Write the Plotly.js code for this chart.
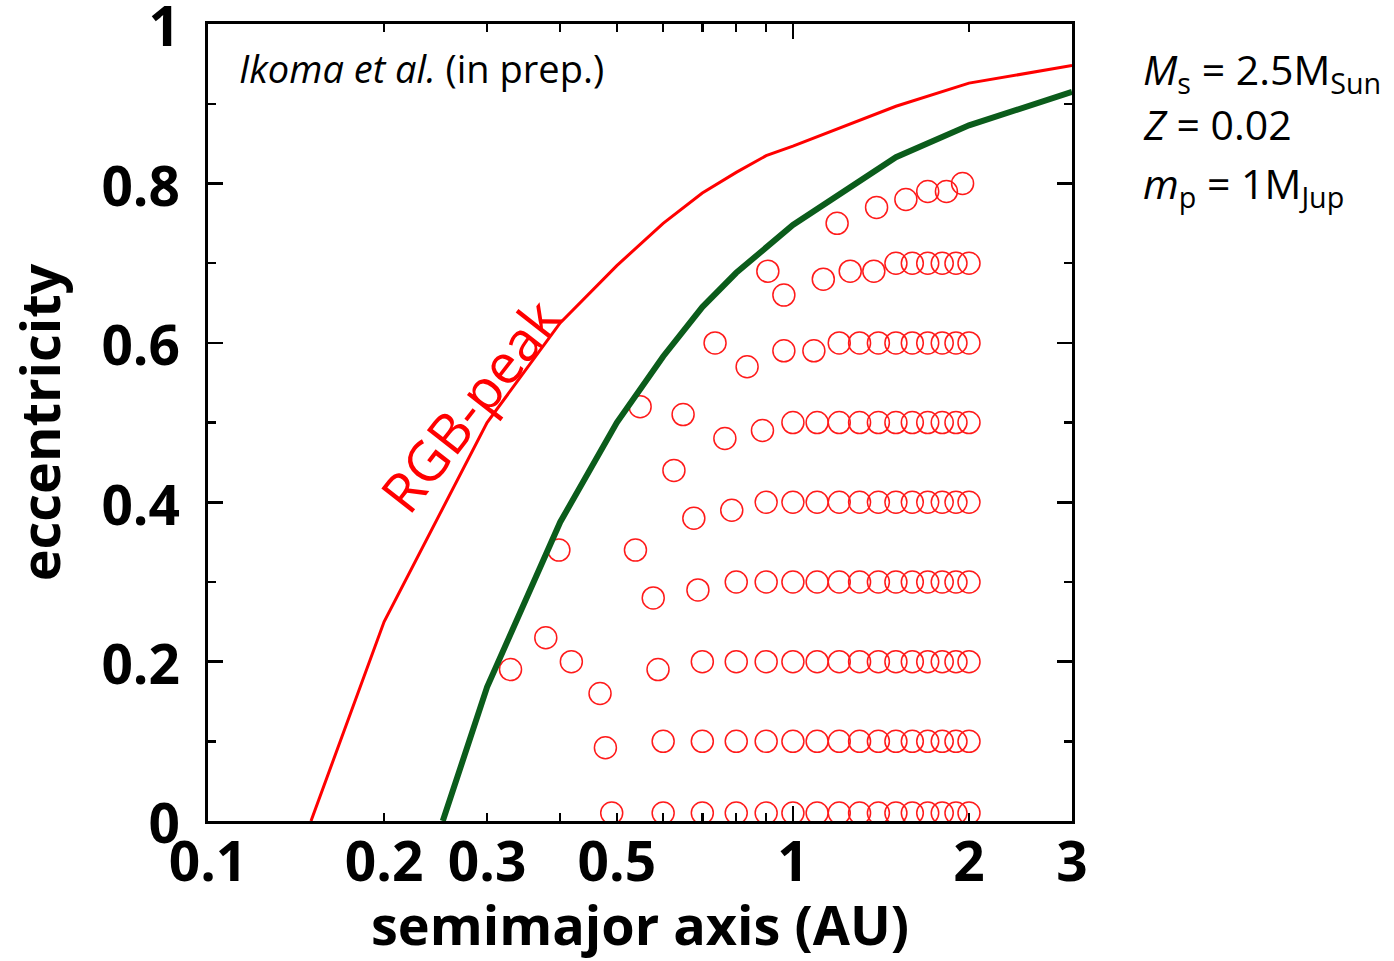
<!DOCTYPE html>
<html>
<head>
<meta charset="utf-8">
<script src="https://cdn.plot.ly/plotly-3.0.1.min.js"></script>
<style>html,body{margin:0;padding:0;background:#fff;}#chart{width:1394px;height:961px;}</style>
</head>
<body>
<div id="chart"></div>
<script>
// RGB-peak boundary (red line)
const redA = [0.15, 0.2, 0.3, 0.4, 0.5, 0.6, 0.7, 0.8, 0.9, 1.0, 1.5, 2.0, 3.0];
const redE = [0, 0.25, 0.50, 0.625, 0.697, 0.75, 0.788, 0.814, 0.835, 0.847, 0.897, 0.926, 0.948];

// green boundary
const greenA = [0.252, 0.3, 0.4, 0.5, 0.6, 0.7, 0.8, 0.9, 1.0, 1.5, 2.0, 3.0];
const greenE = [0, 0.168, 0.375, 0.50, 0.583, 0.645, 0.688, 0.72, 0.748, 0.833, 0.873, 0.915];

// final orbits (open circles)
const circA = [
  0.49, 0.6, 0.7, 0.8, 0.9, 1.0, 1.1, 1.2, 1.3, 1.4, 1.5, 1.6, 1.7, 1.8, 1.9, 2.0,
  0.478, 0.6, 0.7, 0.8, 0.9, 1.0, 1.1, 1.2, 1.3, 1.4, 1.5, 1.6, 1.7, 1.8, 1.9, 2.0,
  0.329, 0.378, 0.418, 0.468, 0.588, 0.7, 0.8, 0.9, 1.0, 1.1, 1.2, 1.3, 1.4, 1.5, 1.6, 1.7, 1.8, 1.9, 2.0,
  0.398, 0.538, 0.577, 0.688, 0.8, 0.9, 1.0, 1.1, 1.2, 1.3, 1.4, 1.5, 1.6, 1.7, 1.8, 1.9, 2.0,
  0.626, 0.677, 0.786, 0.9, 1.0, 1.1, 1.2, 1.3, 1.4, 1.5, 1.6, 1.7, 1.8, 1.9, 2.0,
  0.548, 0.649, 0.765, 0.887, 1.0, 1.1, 1.2, 1.3, 1.4, 1.5, 1.6, 1.7, 1.8, 1.9, 2.0,
  0.736, 0.835, 0.965, 1.086, 1.2, 1.3, 1.4, 1.5, 1.6, 1.7, 1.8, 1.9, 2.0,
  0.906, 0.965, 1.127, 1.253, 1.375, 1.5, 1.6, 1.7, 1.8, 1.9, 2.0,
  1.19, 1.39, 1.56, 1.70, 1.83, 1.95
];
const circE = [
  0.01, 0.01, 0.01, 0.01, 0.01, 0.01, 0.01, 0.01, 0.01, 0.01, 0.01, 0.01, 0.01, 0.01, 0.01, 0.01,
  0.092, 0.1, 0.1, 0.1, 0.1, 0.1, 0.1, 0.1, 0.1, 0.1, 0.1, 0.1, 0.1, 0.1, 0.1, 0.1,
  0.19, 0.23, 0.20, 0.16, 0.19, 0.2, 0.2, 0.2, 0.2, 0.2, 0.2, 0.2, 0.2, 0.2, 0.2, 0.2, 0.2, 0.2, 0.2,
  0.34, 0.34, 0.28, 0.29, 0.3, 0.3, 0.3, 0.3, 0.3, 0.3, 0.3, 0.3, 0.3, 0.3, 0.3, 0.3, 0.3,
  0.44, 0.38, 0.39, 0.4, 0.4, 0.4, 0.4, 0.4, 0.4, 0.4, 0.4, 0.4, 0.4, 0.4, 0.4,
  0.52, 0.51, 0.48, 0.49, 0.5, 0.5, 0.5, 0.5, 0.5, 0.5, 0.5, 0.5, 0.5, 0.5, 0.5,
  0.60, 0.57, 0.59, 0.59, 0.6, 0.6, 0.6, 0.6, 0.6, 0.6, 0.6, 0.6, 0.6,
  0.69, 0.66, 0.68, 0.69, 0.69, 0.7, 0.7, 0.7, 0.7, 0.7, 0.7,
  0.75, 0.77, 0.78, 0.79, 0.79, 0.80
];

// tick labels
const xTickVals = [0.1, 0.2, 0.3, 0.5, 1, 2, 3];
const xTickText = ['0.1', '0.2', '0.3', '0.5', '1', '2', '3'];
const xMinorVals = [0.4, 0.6, 0.7, 0.8, 0.9];
const xMajorLong = [1];
const yTickVals = [0, 0.2, 0.4, 0.6, 0.8, 1];
const yTickText = ['0', '0.2', '0.4', '0.6', '0.8', '1'];

const FONT = 'Open Sans, Noto Sans, sans-serif';
const xRange = [Math.log10(0.1), Math.log10(3)];

const traces = [
  {x: redA, y: redE, type: 'scatter', mode: 'lines', line: {color: '#ff0000', width: 3}, xaxis: 'x', yaxis: 'y', hoverinfo: 'skip'},
  {x: circA, y: circE, type: 'scatter', mode: 'markers', xaxis: 'x', yaxis: 'y',
   marker: {symbol: 'circle-open', size: 22, color: '#ff1a1a', line: {width: 1.5, color: '#ff1a1a'}}, hoverinfo: 'skip'},
  {x: greenA, y: greenE, type: 'scatter', mode: 'lines', line: {color: '#0b5c1b', width: 6}, xaxis: 'x2', yaxis: 'y', hoverinfo: 'skip'}
];

const layout = {
  width: 1394, height: 961,
  margin: {l: 208, r: 322, t: 24, b: 140, pad: 0},
  paper_bgcolor: '#ffffff', plot_bgcolor: '#ffffff',
  showlegend: false,
  font: {family: FONT, color: '#000'},
  xaxis: {
    type: 'log', range: xRange, fixedrange: true,
    tickmode: 'array', tickvals: xTickVals, ticktext: xTickText,
    ticks: 'inside', ticklen: 8, tickwidth: 2.5, tickcolor: '#000',
    minor: {tickmode: 'array', tickvals: xMinorVals, ticks: 'inside', ticklen: 8, tickwidth: 2.5, tickcolor: '#000', showgrid: false},
    showline: true, linewidth: 3, linecolor: '#000', mirror: 'ticks',
    showgrid: false, zeroline: false,
    tickfont: {family: FONT, size: 55, color: '#000', weight: 'bold'},
    ticklabelstandoff: -9, ticklabeloverflow: 'allow',
    title: {text: '<b>semimajor axis (AU)</b>', font: {family: FONT, size: 54, color: '#000'}, standoff: 10}
  },
  xaxis2: {
    type: 'log', range: xRange, overlaying: 'x', anchor: 'y', side: 'bottom', fixedrange: true,
    tickmode: 'array', tickvals: xMajorLong, ticktext: [''],
    ticks: 'inside', ticklen: 15, tickwidth: 2.5, tickcolor: '#000',
    showticklabels: false, showline: false, mirror: 'ticks',
    showgrid: false, zeroline: false
  },
  yaxis: {
    range: [0, 1.0002], fixedrange: true,
    tickmode: 'array', tickvals: yTickVals, ticktext: yTickText,
    ticks: 'inside', ticklen: 15, tickwidth: 2.5, tickcolor: '#000',
    minor: {dtick: 0.1, ticks: 'inside', ticklen: 8, tickwidth: 2.5, tickcolor: '#000', showgrid: false},
    showline: true, linewidth: 3, linecolor: '#000', mirror: 'ticks',
    showgrid: false, zeroline: false,
    tickfont: {family: FONT, size: 55, color: '#000', weight: 'bold'},
    ticklabelstandoff: 14, ticklabelshift: 3, ticklabeloverflow: 'allow',
    title: {text: '<b>eccentricity</b>', font: {family: FONT, size: 54, color: '#000'}, standoff: 24}
  },
  annotations: [
    {xref: 'paper', yref: 'paper', x: 0.034, y: 0.945, xanchor: 'left', yanchor: 'middle', showarrow: false,
     text: '<i>Ikoma et al.</i> (in prep.)', font: {family: FONT, size: 38, color: '#000'}},
    {xref: 'paper', yref: 'paper', x: 0.303, y: 0.522, xanchor: 'center', yanchor: 'middle', showarrow: false,
     text: 'RGB-peak', textangle: -52, font: {family: FONT, size: 55, color: '#ff0000'}},
    {xref: 'paper', yref: 'paper', x: 1.08, y: 0.94, xanchor: 'left', yanchor: 'middle', showarrow: false,
     text: '<i>M</i><sub>s</sub> = 2.5M<sub>Sun</sub>', font: {family: FONT, size: 41, color: '#000'}},
    {xref: 'paper', yref: 'paper', x: 1.08, y: 0.874, xanchor: 'left', yanchor: 'middle', showarrow: false,
     text: '<i>Z</i> = 0.02', font: {family: FONT, size: 41, color: '#000'}},
    {xref: 'paper', yref: 'paper', x: 1.08, y: 0.797, xanchor: 'left', yanchor: 'middle', showarrow: false,
     text: '<i>m</i><sub>p</sub> = 1M<sub>Jup</sub>', font: {family: FONT, size: 41, color: '#000'}}
  ]
};

Plotly.newPlot('chart', traces, layout, {displayModeBar: false, staticPlot: true});
</script>
</body>
</html>
